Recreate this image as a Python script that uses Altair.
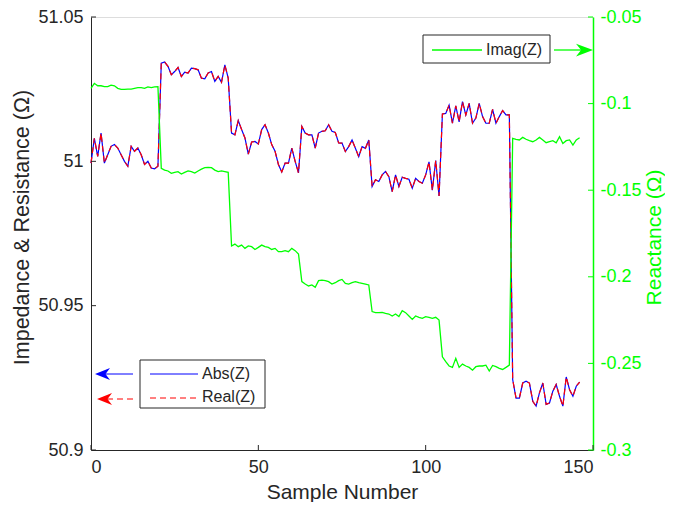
import altair as alt
import pandas as pd

# ---------------- data ----------------
sample = list(range(147))

abs_z = [
    50.9994, 51.0080, 51.0017, 51.0098, 50.9994, 51.0023, 51.0052, 51.0058, 51.0046, 51.0023,
    51.0000, 50.9983, 51.0052, 51.0035, 51.0046, 51.0023, 50.9989, 51.0000, 50.9977, 50.9974,
    50.9983,
    51.0340, 51.0344, 51.0329, 51.0300, 51.0311, 51.0325, 51.0294, 51.0309, 51.0306, 51.0323,
    51.0321, 51.0317, 51.0288, 51.0286, 51.0306, 51.0311, 51.0277, 51.0294, 51.0274, 51.0334,
    51.0288,
    51.0098, 51.0092, 51.0141, 51.0110, 51.0081, 51.0025, 51.0067, 51.0069, 51.0060, 51.0110,
    51.0127, 51.0098, 51.0058, 51.0035, 50.9989, 50.9963, 50.9994, 50.9994, 51.0046, 51.0000,
    50.9960, 51.0121, 51.0098, 51.0092, 51.0092, 51.0046, 51.0098, 51.0104, 51.0106, 51.0127,
    51.0104, 51.0100, 51.0064, 51.0063, 51.0034, 51.0051, 51.0074, 51.0045, 51.0016, 51.0051,
    51.0045, 51.0074,
    50.9913, 50.9936, 50.9930, 50.9953, 50.9965, 50.9947, 50.9895, 50.9953, 50.9913, 50.9945,
    50.9941, 50.9938, 50.9907, 50.9941, 50.9930, 50.9924, 50.9953, 50.9998, 50.9900, 51.0003,
    50.9880,
    51.0164, 51.0166, 51.0195, 51.0132, 51.0192, 51.0137, 51.0207, 51.0161, 51.0201, 51.0132,
    51.0150, 51.0201, 51.0155, 51.0132, 51.0132, 51.0180, 51.0132, 51.0155, 51.0176, 51.0161,
    51.0161,
    50.9244, 50.9180, 50.9180, 50.9232, 50.9238, 50.9232, 50.9169, 50.9152, 50.9198, 50.9232,
    50.9158, 50.9163, 50.9204, 50.9227, 50.9186, 50.9152, 50.9253, 50.9209, 50.9186, 50.9221,
    50.9235,
]

real_z = [
    50.9994, 51.0080, 51.0017, 51.0098, 50.9994, 51.0023, 51.0052, 51.0058, 51.0046, 51.0023,
    51.0000, 50.9983, 51.0052, 51.0035, 51.0046, 51.0023, 50.9989, 51.0000, 50.9977, 50.9974,
    50.9983,
    51.0340, 51.0344, 51.0329, 51.0300, 51.0311, 51.0325, 51.0294, 51.0309, 51.0306, 51.0323,
    51.0321, 51.0317, 51.0288, 51.0286, 51.0306, 51.0311, 51.0277, 51.0294, 51.0274, 51.0334,
    51.0288,
    51.0098, 51.0092, 51.0141, 51.0110, 51.0081, 51.0025, 51.0067, 51.0069, 51.0060, 51.0110,
    51.0127, 51.0098, 51.0058, 51.0035, 50.9989, 50.9963, 50.9994, 50.9994, 51.0046, 51.0000,
    50.9960, 51.0121, 51.0098, 51.0092, 51.0092, 51.0046, 51.0098, 51.0104, 51.0106, 51.0127,
    51.0104, 51.0100, 51.0064, 51.0063, 51.0034, 51.0051, 51.0074, 51.0045, 51.0016, 51.0051,
    51.0045, 51.0074,
    50.9913, 50.9936, 50.9930, 50.9953, 50.9965, 50.9947, 50.9895, 50.9953, 50.9913, 50.9945,
    50.9941, 50.9938, 50.9907, 50.9941, 50.9930, 50.9924, 50.9953, 50.9998, 50.9900, 51.0003,
    50.9880,
    51.0164, 51.0166, 51.0195, 51.0132, 51.0192, 51.0137, 51.0207, 51.0161, 51.0201, 51.0132,
    51.0150, 51.0201, 51.0155, 51.0132, 51.0132, 51.0180, 51.0132, 51.0155, 51.0176, 51.0161,
    51.0161,
    50.9244, 50.9180, 50.9180, 50.9232, 50.9238, 50.9232, 50.9169, 50.9152, 50.9198, 50.9232,
    50.9158, 50.9163, 50.9204, 50.9227, 50.9186, 50.9152, 50.9253, 50.9209, 50.9186, 50.9221,
    50.9235,
]

imag_z = [
    -0.0912, -0.0883, -0.0897, -0.0897, -0.0902, -0.0902, -0.0893, -0.0897, -0.0912, -0.0918,
    -0.0918, -0.0916, -0.0916, -0.0912, -0.0908, -0.0908, -0.0912, -0.0904, -0.0908, -0.0904,
    -0.0902,
    -0.1374, -0.1384, -0.1389, -0.1403, -0.1397, -0.1393, -0.1407, -0.1397, -0.1389, -0.1393,
    -0.1401, -0.1389, -0.1378, -0.1370, -0.1368, -0.1370, -0.1384, -0.1393, -0.1389, -0.1393,
    -0.1397,
    -0.1822, -0.1811, -0.1826, -0.1817, -0.1836, -0.1822, -0.1826, -0.1842, -0.1830, -0.1817,
    -0.1826, -0.1830, -0.1842, -0.1836, -0.1855, -0.1855, -0.1849, -0.1855, -0.1836, -0.1849,
    -0.1868,
    -0.2028, -0.2042, -0.2053, -0.2047, -0.2061, -0.2022, -0.2019, -0.2022, -0.2028, -0.2042,
    -0.2034, -0.2022, -0.2015, -0.2038, -0.2042, -0.2034, -0.2028, -0.2034, -0.2038, -0.2042,
    -0.2047,
    -0.2201, -0.2207, -0.2207, -0.2205, -0.2211, -0.2215, -0.2226, -0.2215, -0.2230, -0.2196,
    -0.2207, -0.2226, -0.2246, -0.2226, -0.2234, -0.2240, -0.2230, -0.2234, -0.2240, -0.2234,
    -0.2250,
    -0.2462, -0.2490, -0.2515, -0.2523, -0.2471, -0.2523, -0.2504, -0.2515, -0.2523, -0.2539,
    -0.2519, -0.2515, -0.2515, -0.2510, -0.2544, -0.2512, -0.2519, -0.2529, -0.2535, -0.2523,
    -0.2510,
    -0.1201, -0.1206, -0.1210, -0.1195, -0.1206, -0.1214, -0.1220, -0.1210, -0.1195, -0.1210,
    -0.1226, -0.1220, -0.1214, -0.1226, -0.1191, -0.1230, -0.1214, -0.1210, -0.1239, -0.1210,
    -0.1197,
]

x_ticks = [0, 50, 100, 150]
left_ticks = [50.9, 50.95, 51, 51.05]
right_ticks = [-0.3, -0.25, -0.2, -0.15, -0.1, -0.05]

series_labels = ["Abs(Z)", "Real(Z)", "Imag(Z)"]

# ---------------- styling ----------------
W, H = 502, 433
FONT = "Liberation Sans"
DARK = "#262626"
BLUE = "#0000FF"
RED = "#FF0000"
GREEN = "#00FF00"

df = pd.DataFrame({"n": sample, "abs": abs_z, "real": real_z, "imag": imag_z})
one = pd.DataFrame({"k": [0]})

xs = alt.Scale(domain=[0, 150], nice=False, zero=False)
yl = alt.Scale(domain=[50.9, 51.05], nice=False, zero=False)
yr = alt.Scale(domain=[-0.3, -0.05], nice=False, zero=False)

x_axis = alt.Axis(
    values=x_ticks, title="Sample Number", grid=False, ticks=False,
    domainColor=DARK, domainWidth=1, labelColor=DARK, titleColor=DARK,
    labelFont=FONT, titleFont=FONT, labelFontSize=18, titleFontSize=21,
    titleFontWeight="normal", labelPadding=8, labelExpr="'' + datum.value",
    titleX=W / 2, titleY=48, titleBaseline="alphabetic", titleAlign="center",
)
left_axis = alt.Axis(
    orient="left", values=left_ticks, title="Impedance & Resistance (Ω)", grid=False,
    ticks=False, domainColor=DARK, domainWidth=1, labelColor=DARK, titleColor=DARK,
    labelFont=FONT, titleFont=FONT, labelFontSize=18, titleFontSize=21.5,
    titleFontWeight="normal", labelPadding=8, labelExpr="'' + datum.value",
    titleX=-63, titleY=210, titleAngle=270, titleBaseline="alphabetic", titleAlign="center",
)
right_axis = alt.Axis(
    orient="right", values=right_ticks, title="Reactance (Ω)", grid=False,
    ticks=False, domainColor=GREEN, domainWidth=1.5, labelColor=GREEN, titleColor=GREEN,
    labelFont=FONT, titleFont=FONT, labelFontSize=18, titleFontSize=21,
    titleFontWeight="normal", labelPadding=7, labelExpr="'' + datum.value",
    titleX=67, titleY=220, titleAngle=270, titleBaseline="alphabetic", titleAlign="center",
)

base = alt.Chart(df).encode(x=alt.X("n:Q", scale=xs, axis=x_axis))

abs_line = base.mark_line(color=BLUE, strokeWidth=1.2).encode(
    y=alt.Y("abs:Q", scale=yl, axis=left_axis))
real_line = base.mark_line(color=RED, strokeWidth=1.2, strokeDash=[6, 4]).encode(
    y=alt.Y("real:Q", scale=yl, axis=left_axis))
imag_line = base.mark_line(color=GREEN, strokeWidth=1.3).encode(
    y=alt.Y("imag:Q", scale=yr, axis=right_axis))

left_tk = alt.Chart(pd.DataFrame({"v": left_ticks})).mark_rule(color=DARK, strokeWidth=1).encode(
    y=alt.Y("v:Q", scale=yl, axis=left_axis), x=alt.value(0), x2=alt.value(5))
bottom_tk = alt.Chart(pd.DataFrame({"t": x_ticks})).mark_rule(color=DARK, strokeWidth=1).encode(
    x=alt.X("t:Q", scale=xs, axis=x_axis), y=alt.value(H), y2=alt.value(H - 5))
right_tk = alt.Chart(pd.DataFrame({"r": right_ticks})).mark_rule(color=GREEN, strokeWidth=1).encode(
    y=alt.Y("r:Q", scale=yr, axis=right_axis), x=alt.value(W - 5), x2=alt.value(W))

# ---------------- legend boxes & arrows ----------------
ann = alt.Chart(one)
LEFT_ARROW = "M-1,0 L1,-0.8 L0.4,0 L1,0.8 Z"
RIGHT_ARROW = "M1,0 L-1,-0.75 L-0.4,0 L-1,0.75 Z"

box1 = ann.mark_rect(fill="white", stroke=DARK, strokeWidth=1).encode(
    x=alt.value(49), x2=alt.value(174), y=alt.value(343), y2=alt.value(391))
box2 = ann.mark_rect(fill="white", stroke=DARK, strokeWidth=1).encode(
    x=alt.value(332), x2=alt.value(459), y=alt.value(18), y2=alt.value(46))

leg_abs = ann.mark_rule(color=BLUE, strokeWidth=1).encode(
    x=alt.value(59), x2=alt.value(107), y=alt.value(357))
leg_real = ann.mark_rule(color=RED, strokeWidth=1, strokeDash=[6, 4]).encode(
    x=alt.value(59), x2=alt.value(107), y=alt.value(381))
leg_imag = ann.mark_rule(color=GREEN, strokeWidth=1.3).encode(
    x=alt.value(341), x2=alt.value(391), y=alt.value(33))

txt_style = dict(align="left", baseline="middle", font=FONT, fontSize=16, color=DARK)
t_abs = ann.mark_text(**txt_style).encode(x=alt.value(111), y=alt.value(357), text=alt.value(series_labels[0]))
t_real = ann.mark_text(**txt_style).encode(x=alt.value(111), y=alt.value(380), text=alt.value(series_labels[1]))
t_imag = ann.mark_text(**txt_style).encode(x=alt.value(395), y=alt.value(33), text=alt.value(series_labels[2]))

arr_abs_line = ann.mark_rule(color=BLUE, strokeWidth=1).encode(
    x=alt.value(12), x2=alt.value(42), y=alt.value(357))
arr_abs_head = ann.mark_point(shape=LEFT_ARROW, filled=True, size=225, color=BLUE, opacity=1).encode(
    x=alt.value(11.5), y=alt.value(357))
arr_real_line = ann.mark_rule(color=RED, strokeWidth=1, strokeDash=[6, 4]).encode(
    x=alt.value(42), x2=alt.value(16), y=alt.value(382))
arr_real_head = ann.mark_point(shape=LEFT_ARROW, filled=True, size=225, color=RED, opacity=1).encode(
    x=alt.value(13.5), y=alt.value(382))
arr_imag_line = ann.mark_rule(color=GREEN, strokeWidth=1.3).encode(
    x=alt.value(463), x2=alt.value(495), y=alt.value(33))
arr_imag_head = ann.mark_point(shape=RIGHT_ARROW, filled=True, size=289, color=GREEN, opacity=1).encode(
    x=alt.value(493.5), y=alt.value(33))

left_group = alt.layer(
    abs_line, real_line, left_tk, bottom_tk,
    box1, box2, leg_abs, leg_real, leg_imag, t_abs, t_real, t_imag,
    arr_abs_line, arr_abs_head, arr_real_line, arr_real_head, arr_imag_line, arr_imag_head,
)
right_group = alt.layer(imag_line, right_tk)

chart = (
    alt.layer(left_group, right_group)
    .resolve_scale(y="independent")
    .properties(
        width=W, height=H,
        autosize=alt.AutoSizeParams(type="none"),
        padding={"left": 83, "top": 9, "right": 72, "bottom": 52},
    )
    .configure_view(stroke=None)
    .configure(font=FONT, background="white")
)

chart.save("out.html", embed_options={"renderer": "svg", "actions": False})
